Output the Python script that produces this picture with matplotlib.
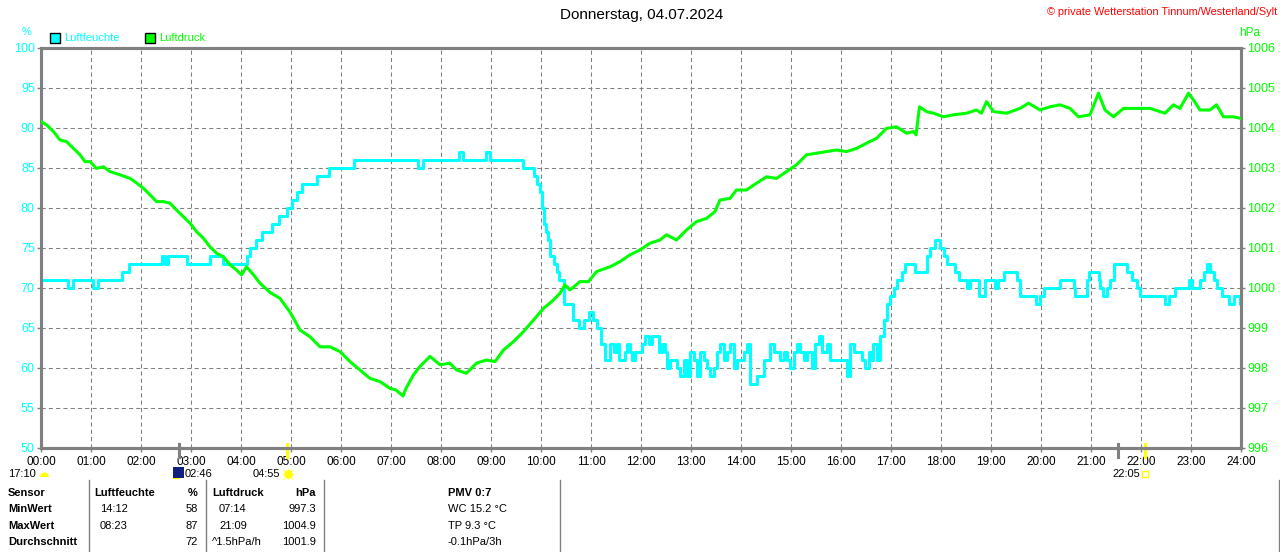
import matplotlib.pyplot as plt
import matplotlib.patches as mpatches
import matplotlib.transforms as mtransforms

# --- Data (hours since midnight) ---
hum_t = [0.00, 0.54, 0.64, 1.04, 1.14, 1.62, 1.75, 2.42, 2.47, 2.54, 2.92, 3.38, 3.64,
         4.11, 4.18, 4.30, 4.41, 4.61, 4.75, 4.91, 5.01, 5.11, 5.21, 5.51, 5.75, 6.25,
         7.54, 7.64, 8.36, 8.44, 8.89, 8.98, 9.63, 9.85, 9.92, 9.98, 10.02, 10.06, 10.10,
         10.14, 10.18, 10.25, 10.32, 10.36, 10.45, 10.63, 10.75, 10.85, 10.95, 11.03,
         11.12, 11.20, 11.28,
         11.31, 11.38, 11.45, 11.51, 11.55, 11.65, 11.68, 11.71, 11.78, 11.81, 11.88,
         12.01, 12.08, 12.15, 12.21, 12.35, 12.41, 12.48, 12.51, 12.58, 12.71, 12.78,
         12.85, 12.91, 12.98, 13.05, 13.11, 13.18, 13.25, 13.31, 13.38, 13.45, 13.51,
         13.58, 13.65, 13.71, 13.78, 13.85, 13.91, 14.05, 14.11, 14.18, 14.31, 14.45,
         14.58, 14.65, 14.78, 14.85, 14.91, 14.98, 15.05, 15.11, 15.18, 15.25, 15.31,
         15.41, 15.48, 15.55, 15.61, 15.71, 15.78, 16.11, 16.18, 16.25, 16.41, 16.48,
         16.55, 16.61, 16.65, 16.71, 16.78, 16.85, 16.91, 16.98, 17.05, 17.11, 17.21,
         17.28, 17.48, 17.71, 17.78, 17.88, 17.98, 18.05, 18.11, 18.28, 18.35, 18.51,
         18.58, 18.75, 18.88, 19.08, 19.15, 19.25, 19.51, 19.58, 19.90, 19.98, 20.05,
         20.38, 20.65, 20.68, 20.91, 20.95, 21.15, 21.18, 21.23, 21.31, 21.38, 21.45,
         21.71, 21.81, 21.91, 21.98, 22.48, 22.55, 22.68, 22.95, 23.01, 23.18, 23.25,
         23.31, 23.38, 23.45, 23.51, 23.61, 23.75, 23.85, 23.97, 24.00]
hum_v = [71, 70, 71, 70, 71, 72, 73, 74, 73, 74, 73, 74, 73,
         74, 75, 76, 77, 78, 79, 80, 81, 82, 83, 84, 85, 86,
         85, 86, 87, 86, 87, 86, 85, 84, 83, 82, 80, 78, 77,
         76, 74, 73, 72, 71, 68, 66, 65, 66, 67, 66,
         65, 63, 61,
         61, 63, 62, 63, 61, 61, 62, 63, 62, 61, 62,
         63, 64, 63, 64, 62, 63, 62, 60, 61, 60, 59,
         61, 59, 62, 61, 59, 62, 61, 60, 59, 60, 62,
         63, 61, 62, 63, 60, 61, 62, 63, 58, 59, 61,
         63, 62, 61, 62, 61, 60, 62, 63, 62, 61, 62,
         60, 63, 64, 62, 63, 61, 59, 63, 62, 61, 60,
         62, 61, 63, 61, 64, 66, 68, 69, 70, 71, 72,
         73, 72, 74, 75, 76, 75, 74, 73, 72, 71, 70,
         71, 69, 71, 70, 71, 72, 71, 69, 68, 69, 70,
         71, 70, 69, 71, 72, 71, 70, 69, 70, 71, 73,
         72, 71, 70, 69, 68, 69, 70, 71, 70, 71, 72,
         73, 72, 71, 70, 69, 68, 69, 68, 68]

press_t = [0.00, 0.11, 0.25, 0.38, 0.51, 0.65, 0.78, 0.88, 0.98, 1.11, 1.25, 1.38, 1.58,
           1.78, 1.91, 2.05, 2.18, 2.31, 2.45, 2.58, 2.71, 2.85, 2.98, 3.11, 3.25, 3.38,
           3.51, 3.65, 3.78, 3.91, 4.01, 4.11, 4.25, 4.38, 4.58, 4.78, 4.98, 5.18, 5.38,
           5.58, 5.78, 5.98, 6.18, 6.38, 6.58, 6.78, 6.98, 7.10, 7.24, 7.30, 7.45, 7.58,
           7.78, 7.98, 8.18, 8.31, 8.51, 8.71, 8.91, 9.08, 9.25, 9.45, 9.65, 9.85, 10.05,
           10.25, 10.38, 10.48, 10.58, 10.78, 10.95, 11.11, 11.38, 11.58, 11.78, 11.98,
           12.18, 12.38, 12.51, 12.71, 12.91, 13.11, 13.31, 13.48, 13.58, 13.78, 13.91,
           14.11, 14.31, 14.51, 14.71, 14.91, 15.11, 15.31, 15.51, 15.71, 15.91, 16.11,
           16.31, 16.51, 16.71, 16.91, 17.11, 17.31, 17.45, 17.50, 17.57, 17.71, 17.85,
           18.05, 18.25, 18.51, 18.71, 18.81, 18.91, 19.05, 19.31, 19.58, 19.75, 19.98,
           20.18, 20.38, 20.58, 20.75, 20.98, 21.15, 21.28, 21.45, 21.65, 21.91, 22.18,
           22.48, 22.65, 22.78, 22.95, 23.05, 23.18, 23.38, 23.51, 23.65, 23.85, 24.00]
press_v = [1004.16, 1004.08, 1003.91, 1003.70, 1003.66, 1003.49, 1003.33, 1003.16, 1003.16,
           1002.99, 1003.03, 1002.91, 1002.83, 1002.74, 1002.63, 1002.49, 1002.33, 1002.16,
           1002.16, 1002.12, 1001.95, 1001.78, 1001.62, 1001.41, 1001.24, 1001.03, 1000.87,
           1000.78, 1000.58, 1000.45, 1000.33, 1000.53, 1000.33, 1000.12, 999.89, 999.74,
           999.40, 998.95, 998.78, 998.53, 998.53, 998.41, 998.16, 997.95, 997.74, 997.66,
           997.49, 997.45, 997.30, 997.49, 997.83, 998.04, 998.29, 998.08, 998.12, 997.95,
           997.87, 998.12, 998.20, 998.16, 998.45, 998.66, 998.91, 999.20, 999.49, 999.70,
           999.87, 1000.08, 999.95, 1000.16, 1000.16, 1000.41, 1000.53, 1000.66, 1000.83,
           1000.95, 1001.12, 1001.20, 1001.33, 1001.20, 1001.45, 1001.66, 1001.74, 1001.91,
           1002.20, 1002.24, 1002.45, 1002.45, 1002.62, 1002.78, 1002.74, 1002.91, 1003.08,
           1003.33, 1003.37, 1003.41, 1003.45, 1003.41, 1003.49, 1003.62, 1003.74, 1003.99,
           1004.03, 1003.87, 1003.91, 1003.83, 1004.53, 1004.41, 1004.37, 1004.28, 1004.33,
           1004.37, 1004.45, 1004.37, 1004.66, 1004.41, 1004.37, 1004.49, 1004.62, 1004.45,
           1004.53, 1004.58, 1004.49, 1004.28, 1004.33, 1004.87, 1004.45, 1004.28, 1004.49,
           1004.49, 1004.49, 1004.37, 1004.58, 1004.49, 1004.87, 1004.70, 1004.45, 1004.45,
           1004.58, 1004.28, 1004.28, 1004.24]

hour_labels = [f"{h:02d}:00" for h in range(25)]
hum_ticks = list(range(50, 101, 5))
press_ticks = list(range(996, 1007))

# sun / moon events below the time axis
moon_rise = 2.767    # 02:46
moon_mark2 = 21.53
sun_rise = 4.917     # 04:55
sun_set = 22.083     # 22:05

# summary table
row_labels = ["Sensor", "MinWert", "MaxWert", "Durchschnitt"]
hum_times = ["Luftfeuchte", "14:12", "08:23", ""]
hum_vals = ["%", "58", "87", "72"]
press_times = ["Luftdruck", "07:14", "21:09", "^1.5hPa/h"]
press_vals = ["hPa", "997.3", "1004.9", "1001.9"]
extra_info = ["PMV 0:7", "WC 15.2 °C", "TP 9.3 °C", "-0.1hPa/3h"]

CYAN = "#00ffff"
GREEN = "#00ff00"
GRAY = "#808080"
W, H = 1280, 552

plt.rcParams["font.family"] = ["Liberation Sans", "DejaVu Sans"]
plt.rcParams["font.size"] = 8

fig = plt.figure(figsize=(W / 100, H / 100), dpi=100)
ax = fig.add_axes([41 / W, 1 - 448 / H, 1200 / W, 400 / H])
ax2 = ax.twinx()


def ftext(x, y, s, **kw):
    # place text using pixel coords measured from the top-left corner
    fig.text(x / W, 1 - y / H, s, **kw)


# --- Lines ---
ax.step(hum_t, hum_v, where="post", color=CYAN, lw=2.2, zorder=3)
ax2.plot(press_t, press_v, color=GREEN, lw=2.2, zorder=3)

ax.set_xlim(0, 24)
ax.set_ylim(50, 100)
ax2.set_ylim(996, 1006)

ax.set_xticks(range(25))
ax.set_xticklabels(hour_labels)
ax.set_yticks(hum_ticks)
ax2.set_yticks(press_ticks)

ax.tick_params(axis="x", length=3, width=1, color=GRAY, pad=3, labelsize=8.5)
ax.tick_params(axis="y", length=3, width=1, color=GRAY, pad=1.5, labelsize=9, labelcolor=CYAN)
ax2.tick_params(axis="y", length=3, width=1, color=GRAY, pad=1.5, labelsize=9, labelcolor=GREEN)

ax.grid(True, color=GRAY, linestyle=(0, (4, 3)), linewidth=0.75)
for a in (ax, ax2):
    for s in a.spines.values():
        s.set_color(GRAY)
        s.set_linewidth(2.2)

# --- Header ---
ftext(642, 15, "Donnerstag, 04.07.2024", ha="center", va="center", fontsize=11)
ftext(1277, 12, "© private Wetterstation Tinnum/Westerland/Sylt", ha="right", va="center",
      fontsize=7.8, color="red")
ftext(27, 32, "%", ha="center", va="center", color=CYAN, fontsize=8)
ftext(1250, 33, "hPa", ha="center", va="center", color=GREEN, fontsize=8.5)

fig.add_artist(mpatches.Rectangle((50 / W, 1 - 43 / H), 10 / W, 10 / H, facecolor=CYAN,
                                  edgecolor="black", lw=1, transform=fig.transFigure))
ftext(64, 38, "Luftfeuchte", va="center", color=CYAN, fontsize=8)
fig.add_artist(mpatches.Rectangle((145 / W, 1 - 43 / H), 10 / W, 10 / H, facecolor=GREEN,
                                  edgecolor="black", lw=1, transform=fig.transFigure))
ftext(159, 38, "Luftdruck", va="center", color=GREEN, fontsize=8)

# --- Sun and moon marks under the axis ---
xt = ax.get_xaxis_transform()
for t, c in [(moon_rise, GRAY), (moon_mark2, GRAY), (sun_rise, "#ffff00"), (sun_set, "#ffff00")]:
    ax.plot([t, t], [0.01, -0.0225], transform=xt, clip_on=False, color=c, lw=2.2)

ftext(8, 474, "17:10", va="center", fontsize=8)
fig.add_artist(mpatches.Wedge((44.5, H - 477), 4.5, 0, 180, facecolor="#ffff00",
                              edgecolor="none", transform=mtransforms.IdentityTransform()))
fig.add_artist(mpatches.Rectangle((173, H - 478), 11, 11, facecolor="#102080",
                                  edgecolor="none", transform=mtransforms.IdentityTransform()))
ax.plot([2.70], [-0.068], transform=xt, clip_on=False, marker="^", ms=4, color="#ffff00")
ax.plot([2.68], [-0.058], transform=xt, clip_on=False, marker="o", ms=2.5, color="white")
ftext(185, 474, "02:46", va="center", fontsize=8)

ftext(253, 474, "04:55", va="center", fontsize=8)
ax.plot([4.94], [-0.064], transform=xt, clip_on=False, marker="o", ms=5, color="#ffff00")
ax.plot([4.94], [-0.064], transform=xt, clip_on=False, marker="+", ms=9, mew=1,
        color="#ffff00", alpha=0.6)
ax.plot([4.94], [-0.064], transform=xt, clip_on=False, marker="x", ms=7, mew=1,
        color="#ffff00", alpha=0.6)

ftext(1112, 474, "22:05", va="center", fontsize=8)
ax.plot([22.07], [-0.065], transform=xt, clip_on=False, marker="s", ms=4, mew=1,
        markerfacecolor="none", markeredgecolor="#ffff00")

# --- Summary table ---
row_y = [493, 509.5, 526, 542]
for i, y in enumerate(row_y):
    weight = "bold" if i == 0 else "normal"
    ftext(8, y, row_labels[i], va="center", fontweight="bold", fontsize=8)
    ftext(94 if i == 0 else 100, y, hum_times[i], va="center", fontweight=weight, fontsize=8)
    ftext(198, y, hum_vals[i], va="center", ha="right", fontweight=weight, fontsize=8)
    x_pt = 212 if i in (0, 3) else 219
    ftext(x_pt, y, press_times[i], va="center", fontweight=weight, fontsize=8)
    ftext(316, y, press_vals[i], va="center", ha="right", fontweight=weight, fontsize=8)
    ftext(448, y, extra_info[i], va="center", fontweight=weight, fontsize=8)

for xs in [89, 205.5, 323.5, 559.5, 1279]:
    fig.add_artist(plt.Line2D([xs / W, xs / W], [1 - 480 / H, 0], color=GRAY, lw=1,
                              transform=fig.transFigure))

fig.savefig("out.png", dpi=100)
